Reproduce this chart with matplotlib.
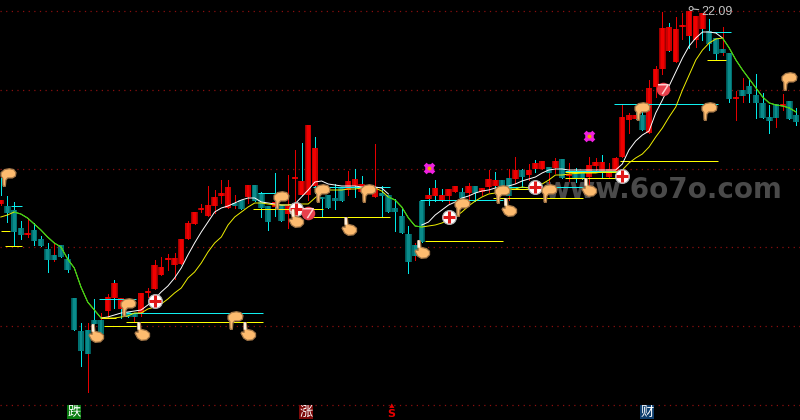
import numpy as np
import matplotlib
matplotlib.use('Agg')
import matplotlib.pyplot as plt
from matplotlib.path import Path

plt.rcParams['font.family']=['Noto Sans CJK SC','DejaVu Sans']

nan=float('nan')

############# precios ##################################
opens=[18.23,18.19,18.11,17.75,17.61,17.71,17.53,17.33,17.21,17.41,
       17.13,16.35,15.69,15.71,15.91,15.91,16.09,16.35,16.13,16.07,
       16.05,16.05,16.45,16.53,16.81,17.11,17.01,17.03,17.53,17.83,
       18.11,17.99,18.19,18.39,18.15,18.25,18.31,18.37,18.61,18.45,
       18.19,18.17,18.21,18.03,18.73,18.41,18.41,18.59,18.37,18.41,
       18.35,18.55,18.51,18.59,18.47,18.47,18.37,18.45,18.41,18.15,
       17.99,17.63,17.41,18.29,18.33,18.39,18.29,18.39,18.47,18.47,
       18.45,18.59,18.47,18.57,18.59,18.71,18.75,18.73,18.91,18.81,
       18.93,18.93,18.97,18.95,19.13,18.79,18.85,18.85,18.77,18.99,
       18.87,18.77,18.87,19.17,19.91,19.93,20.01,19.65,20.57,20.93,
       21.29,21.07,21.77,21.59,21.51,21.73,21.69,21.55,21.33,21.25,
       20.33,20.51,20.59,20.41,20.25,19.97,20.23,20.19,20.29,20.01]
highs=[18.31,18.39,18.27,17.89,17.95,17.85,17.59,17.45,17.45,17.41,
       17.23,16.35,15.85,15.85,16.33,16.05,16.43,16.71,16.35,16.07,
       16.05,16.45,16.55,17.11,17.17,17.23,17.25,17.53,17.89,18.07,
       18.23,18.59,18.51,18.71,18.71,18.41,18.31,18.61,18.61,18.47,
       18.19,18.85,18.21,18.81,19.31,19.45,19.81,19.57,18.37,18.41,
       18.63,18.55,18.89,18.93,18.79,18.55,19.43,18.59,18.41,18.33,
       18.13,17.79,17.45,18.29,18.55,18.71,18.53,18.53,18.59,18.55,
       18.65,18.59,18.55,18.91,18.87,18.71,18.93,19.17,18.93,19.03,
       19.11,19.09,18.97,19.15,19.13,19.05,18.95,18.85,19.17,19.15,
       19.21,19.05,19.17,20.23,20.05,20.11,20.11,20.71,20.99,22.07,
       21.85,21.97,22.05,22.09,21.99,22.05,21.93,21.55,21.77,21.25,
       20.49,20.75,20.71,20.83,20.45,20.21,20.23,20.43,20.29,20.15]
lows=[18.21,17.87,17.41,17.53,17.57,17.41,17.39,16.87,17.09,17.17,
      16.87,15.71,14.99,14.47,15.61,15.63,15.97,16.15,15.95,15.97,
      15.87,15.99,16.37,16.53,16.81,16.91,16.73,17.03,17.53,17.83,
      18.07,17.99,18.05,18.25,18.15,18.15,18.13,18.25,18.29,17.97,
      17.71,17.99,17.89,17.75,18.17,18.41,18.31,18.45,17.97,18.15,
      18.13,18.29,18.41,18.37,18.45,18.47,18.37,17.97,18.07,17.69,
      17.65,16.85,17.11,17.47,18.21,18.29,18.29,18.25,18.47,18.25,
      18.25,18.29,18.41,18.47,18.51,18.59,18.31,18.65,18.57,18.71,
      18.87,18.93,18.65,18.85,18.75,18.69,18.67,18.73,18.57,18.91,
      18.77,18.77,18.87,19.17,19.65,19.93,19.71,19.65,20.37,20.83,
      21.29,21.07,21.53,21.35,21.37,21.51,21.31,21.11,21.21,20.27,
      19.91,20.27,20.27,19.95,19.95,19.65,19.77,20.11,19.93,19.81]
closes=[18.31,18.05,17.67,17.61,17.65,17.49,17.39,17.11,17.11,17.17,
        16.91,15.71,15.29,15.23,15.83,15.63,16.37,16.65,16.35,15.97,
        15.97,16.45,16.47,17.01,16.97,17.13,17.15,17.53,17.85,18.07,
        18.13,18.21,18.37,18.45,18.57,18.19,18.13,18.61,18.29,18.15,
        17.87,18.27,17.89,18.19,18.75,18.69,19.81,19.35,18.33,18.15,
        18.29,18.29,18.69,18.73,18.63,18.55,18.57,18.39,18.07,18.07,
        17.65,17.07,17.19,17.47,18.41,18.55,18.41,18.53,18.59,18.35,
        18.59,18.45,18.55,18.73,18.71,18.59,18.39,18.91,18.77,18.91,
        19.05,19.09,18.85,19.09,18.75,18.81,18.75,18.73,19.01,19.07,
        19.07,18.93,19.15,19.97,20.01,20.01,19.71,20.55,20.93,21.75,
        21.77,21.73,21.79,22.09,21.99,22.05,21.43,21.23,21.25,20.33,
        20.35,20.39,20.43,20.25,19.95,19.89,19.95,20.21,19.93,19.87]

# mecha de otro color que el cuerpo
mecha_roja=[8,13,15,20,35,62,76,82,108,111,116]
mecha_cian=[17,18,41,45,47,53,54,64,65,66,74,80,90,95,100,103,105]

############# medias ##################################
ma_lenta=[17.97,18.01,18.07,18.03,17.95,17.83,17.71,17.57,17.45,17.37,
          17.13,16.95,16.57,16.27,16.11,15.95,15.95,15.95,15.97,15.99,
          16.05,16.05,16.13,16.17,16.23,16.33,16.45,16.55,16.75,16.87,
          17.05,17.27,17.45,17.57,17.81,17.97,18.07,18.17,18.25,18.25,
          18.23,18.21,18.21,18.21,18.21,18.23,18.23,18.35,18.47,18.51,
          18.51,18.51,18.53,18.53,18.55,18.55,18.55,18.49,18.37,18.31,
          18.17,17.95,17.79,17.77,17.79,17.81,17.85,17.91,17.97,18.07,
          18.19,18.29,18.37,18.43,18.45,18.51,18.53,18.53,18.57,18.55,
          18.59,18.63,18.71,18.81,18.81,18.83,18.84,18.85,18.85,18.85,
          18.87,18.87,18.87,18.91,19.05,19.15,19.23,19.37,19.57,19.75,
          19.97,20.17,20.51,20.81,21.11,21.31,21.45,21.53,21.55,21.35,
          21.11,20.91,20.73,20.55,20.37,20.25,20.21,20.19,20.15,20.07]
ma_rapida=[nan]*15+[15.95,15.97,16.01,16.05,16.07,
           16.09,16.11,16.21,16.33,16.47,16.59,16.75,16.95,17.21,17.45,
           17.67,17.87,18.07,18.15,18.19,18.25,18.31,18.35,18.35,18.27,
           18.25,18.23,18.21,18.21,18.23,18.37,18.51,18.67,18.69,18.63,
           18.61,18.59,18.59,18.59,18.57,18.57,18.57,18.55,18.43]+[nan]*4+[
           17.81,17.87,18.01,18.11,18.21,18.27,18.35,18.39,18.45,18.49,
           18.51,18.55,18.57,18.59,18.63,18.69,18.73,18.77,18.85,18.91,
           18.93,18.93,18.91,18.91,18.91,18.91,18.91,18.91,18.91,18.91,
           19.03,19.31,19.49,19.61,19.69,20.05,20.31,20.59,20.87,21.15,
           21.39,21.55,21.67,21.67,21.65,21.55]+[nan]*11
tramos_baja=[(2,15),(58,63),(108,119)]

############# niveles: precio, desde, hasta ############
niveles_cian=[(18.87,0,2.1),(18.19,1.5,3.2),(16.33,14.7,20.2),(16.05,18.7,39.2),
              (18.45,38.5,42.5),(18.57,46.7,58.2),(18.31,62.7,75.2),(18.57,75,79),
              (18.57,81.7,87.1),(18.89,84.4,93.1),(20.23,91.8,107.3),(21.67,106.6,109.3)]
niveles_amarillo=[(17.69,0,1.4),(17.39,0.6,3.2),(15.79,15.4,20.2),(15.95,15,17.2),
                  (15.87,18.7,39.2),(18.13,37.7,48.2),(17.97,46.7,58.2),(17.49,63.5,75.2),
                  (18.35,73.7,87.1),(18.53,76.3,79),(18.75,84.4,93.1),(18.87,84.4,93.1),
                  (19.09,92.7,107.3),(21.11,105.7,108.5)]

############# senales ##################################
mano_arriba_x=[1.1,19,35,42,48,55,69,75,82,96,106,118]
mano_arriba_y=[18.77,16.17,15.91,18.31,18.45,18.45,18.17,18.43,18.45,20.09,20.09,20.69]
mano_abajo_x=[14.25,21.1,37,44.2,52.1,63,76,88]
mano_abajo_y=[15.65,15.69,15.69,17.95,17.79,17.33,18.17,18.57]
cruz_x=[44.2,23,67,80,93]
cruz_y=[18.13,16.29,17.97,18.57,18.79]
bola_x=[46,99.1]
bola_y=[18.05,20.53]
flor_x=[64,88]
flor_y=[18.95,19.59]
grilla=[22.09,20.51,18.93,17.37,15.79,14.21]
etiquetas=[(11,'跌','#0b7d12'),(45.7,'涨','#7d0a0a'),(96.7,'财','#0f3f6e')]

fig=plt.figure(figsize=(8,4.2),dpi=100,facecolor='black')
ax=fig.add_axes([0,0,1,1],facecolor='black')
ax.set_xlim(-0.12,119.59)
ax.set_ylim(13.91,22.31)
ax.axis('off')

for g in grilla:
    ax.axhline(g,color='#8a0f0f',lw=0.9,dashes=(1,3.5),zorder=1)

ax.text(0.829,0.548,'www.6o7o.com',transform=ax.transAxes,ha='center',va='center',
        fontsize=20,fontweight='bold',family='DejaVu Sans',color='#4a4a4a',zorder=2)

x=np.arange(len(opens))
o=np.array(opens); h=np.array(highs); l=np.array(lows); c=np.array(closes)
sube=c>=o
col_mecha=np.where(sube,'#e60000','#00e8e8')
col_mecha[mecha_roja]='#e60000'
col_mecha[mecha_cian]='#00e8e8'
ax.vlines(x,l,h,colors=col_mecha,lw=0.6,antialiased=False,zorder=3)
ax.vlines(0,18.41,18.75,colors='#00e8e8',lw=0.6,antialiased=False,zorder=3)
base=np.minimum(o,c); alto=np.maximum(np.abs(c-o),0.03)
# cuerpo con degrade horizontal
for ancho,rojo,teal in [(0.95,'#a00000','#005858'),(0.8,'#cc0000','#007070'),(0.42,'#f00000','#0a8c8c')]:
    ax.bar(x,alto,bottom=base,width=ancho,color=np.where(sube,rojo,teal),antialiased=False,zorder=4)

for p,a,b in niveles_cian:
    ax.hlines(p,a,b,color='#10f0f0',lw=0.72,zorder=5)
for p,a,b in niveles_amarillo:
    ax.hlines(p,a,b,color='#ffff00',lw=0.72,zorder=5)

ax.plot(x,ma_rapida,color='white',lw=0.7,zorder=6)
ax.plot(x,ma_lenta,color='#f0f000',lw=0.7,zorder=6)
for a,b in tramos_baja:
    ax.plot(x[a:b+1],ma_lenta[a:b+1],color='#20d820',lw=0.7,zorder=6)

ax.scatter(cruz_x,cruz_y,marker='o',s=100,facecolor='white',edgecolor='#b0b0b0',lw=0.8,zorder=7)
ax.scatter(cruz_x,cruz_y,marker='+',s=65,color='#e01818',lw=2.2,zorder=8)
ax.scatter(bola_x,bola_y,marker='o',s=95,color='#e8404c',lw=0,zorder=7)
siete=Path([(-0.6,0.5),(0.6,0.5),(-0.1,-0.6)])
ax.scatter(bola_x,bola_y,marker=siete,s=55,facecolor='none',edgecolor='#ffd0d0',lw=1.1,zorder=8)
ax.scatter(flor_x,flor_y,marker='X',s=70,color='#f020e0',lw=0,zorder=7)
ax.scatter(flor_x,flor_y,marker='o',s=38,color='#f020e0',lw=0,zorder=7)
ax.scatter(flor_x,flor_y,marker='o',s=8,color='#f0a000',lw=0,zorder=8)

# manos
mano_a=Path([(-0.62,-1),(-0.36,-1),(-0.3,-0.3),(-0.1,-0.05),(0.45,-0.05),(0.78,0.15),(0.85,0.55),(0.6,0.9),
             (0.1,1),(-0.45,0.9),(-0.85,0.55),(-0.85,0.15),(-0.65,-0.1),(-0.62,-1)])
mano_b=Path([(-0.5,1),(-0.25,1),(-0.18,0.25),(0.45,0.1),(0.8,-0.2),(0.8,-0.6),(0.45,-0.95),(-0.15,-1),
             (-0.55,-0.75),(-0.85,-0.2),(-0.75,-0.05),(-0.5,-0.1),(-0.5,1)])
dedo_b=Path([(-0.5,1),(-0.25,1),(-0.18,0.15),(-0.5,0.15),(-0.5,1)])
ax.scatter(mano_arriba_x,mano_arriba_y,marker=mano_a,s=160,facecolor='#fdbb6f',edgecolor='#a87a4a',lw=0.9,zorder=9)
ax.scatter(mano_abajo_x,mano_abajo_y,marker=mano_b,s=160,facecolor='#fdbb6f',edgecolor='#a87a4a',lw=0.9,zorder=9)
ax.scatter(mano_abajo_x,mano_abajo_y,marker=dedo_b,s=160,facecolor='#fff0dc',edgecolor='none',zorder=9)

i_max=int(np.argmax(h))
ax.annotate('%.2f'%h[i_max],xy=(i_max+0.6,h[i_max]+0.04),xytext=(6,-2),textcoords='offset points',
            color='#c4c4c4',fontsize=9,family='Liberation Sans',va='center',zorder=10,
            arrowprops=dict(arrowstyle='-',color='#c4c4c4',lw=0.8,shrinkA=0,shrinkB=0))
ax.scatter(i_max+0.3,h[i_max]+0.05,marker='o',s=8,facecolor='none',edgecolor='#c4c4c4',lw=0.7,zorder=10)

for i,t,col in etiquetas:
    ax.text(i,14.07,t,color='white',fontsize=9.5,ha='center',va='center',zorder=9,
            bbox=dict(boxstyle='square,pad=0.04',fc=col,ec='none'))
ax.text(58.5,14.18,'▲',color='#e60000',fontsize=4,ha='center',va='center',zorder=9)
ax.text(58.5,14.03,'S',color='#e60000',fontsize=8,fontweight='bold',ha='center',va='center',family='DejaVu Sans',zorder=9)

plt.savefig('out.png',dpi=100,facecolor='black')
